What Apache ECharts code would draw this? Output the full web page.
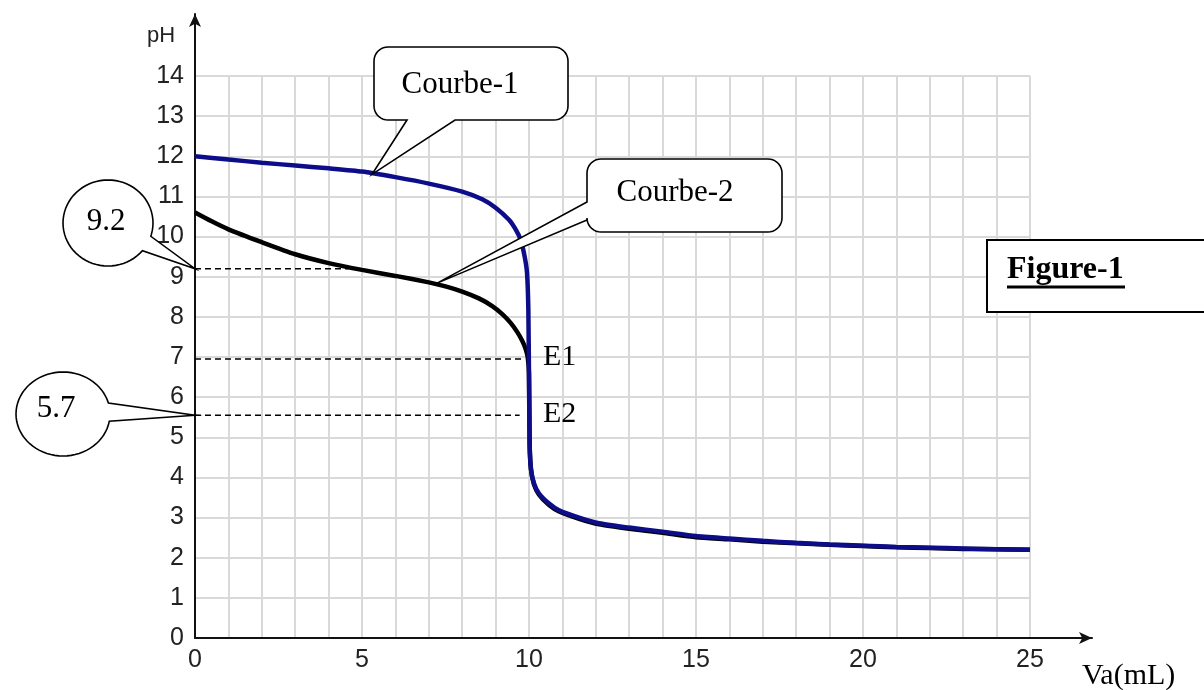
<!DOCTYPE html>
<html><head><meta charset="utf-8">
<script src="https://cdn.jsdelivr.net/npm/echarts@6.0.0/dist/echarts.min.js"></script>
<style>html,body{margin:0;padding:0;background:#fff}#c{width:1204px;height:690px}</style>
</head><body><div id="c"></div>
<script>
// ---- data ----
const vol1 = [0, 1, 2, 3, 4, 5, 6, 7, 8, 8.6, 9, 9.4, 9.6, 9.75, 9.87, 9.94, 9.98, 10.0, 10.02, 10.06, 10.15, 10.3, 10.6, 10.9, 11.5, 12.1, 13, 14, 15, 16, 17, 18, 19, 20, 21, 22, 23, 24, 25];
const pH1  = [12.0, 11.92, 11.84, 11.77, 11.7, 11.62, 11.48, 11.32, 11.12, 10.93, 10.72, 10.42, 10.18, 9.92, 9.5, 9.1, 8.2, 6.5, 4.8, 4.2, 3.85, 3.6, 3.35, 3.18, 3.0, 2.86, 2.75, 2.65, 2.54, 2.48, 2.42, 2.37, 2.33, 2.3, 2.27, 2.25, 2.23, 2.21, 2.2];
const vol2 = [0, 0.5, 1, 2, 3, 4, 5, 6, 7, 7.5, 8, 8.5, 8.9, 9.2, 9.45, 9.65, 9.8, 9.9, 9.96, 10.0, 10.02, 10.06, 10.15, 10.3, 10.6, 10.9, 11.5, 12.1, 13, 14, 15, 16, 17, 18, 19, 20, 21, 22, 23, 24, 25];
const pH2  = [10.6, 10.38, 10.18, 9.86, 9.56, 9.34, 9.17, 9.02, 8.86, 8.76, 8.63, 8.46, 8.27, 8.07, 7.85, 7.62, 7.4, 7.2, 7.0, 6.6, 4.8, 4.2, 3.82, 3.57, 3.31, 3.15, 2.97, 2.83, 2.72, 2.62, 2.51, 2.46, 2.4, 2.36, 2.32, 2.29, 2.26, 2.24, 2.22, 2.21, 2.2];
const refLevels = [9.2, 6.95, 5.55];
const refEnds   = [4.6, 9.82, 9.72];
const xTickLabels = [0, 5, 10, 15, 20, 25];
const yTickLabels = [0,1,2,3,4,5,6,7,8,9,10,11,12,13,14];
const calloutTexts = ['Courbe-1', 'Courbe-2', '9.2', '5.7'];
const calloutTips = [[5.3, 11.55], [7.25, 8.84], [0, 9.2], [0, 5.55]];
const pointLabels = ['E1', 'E2'];

const zip = (xs, ys) => xs.map((x, i) => [x, ys[i]]);
const serif = '"Liberation Serif", "Times New Roman", serif';
const sans = '"Liberation Sans", Arial, sans-serif';

const refSeries = refLevels.map((lv, i) => ({
  type: 'line', xAxisIndex: 0, yAxisIndex: 0, symbol: 'none', silent: true, z: 3,
  data: [[0, lv], [refEnds[i], lv]],
  lineStyle: { color: '#000', width: 1.5, type: [6, 4] }
}));

const option = {
  animation: false,
  backgroundColor: '#fff',
  grid: [
    { left: 195, right: 174, top: 76, bottom: 52 },
    { left: 195, right: 112, top: 14, bottom: 52 }
  ],
  xAxis: [
    { type: 'value', gridIndex: 0, min: 0, max: 25, interval: 1,
      axisLine: { show: false }, axisTick: { show: false },
      axisLabel: { margin: 10, fontFamily: sans, fontSize: 25, color: '#222',
        formatter: v => xTickLabels.includes(v) ? String(v) : '' },
      splitLine: { show: true, lineStyle: { color: '#d9d9d9', width: 2 } } },
    { type: 'value', gridIndex: 1, min: 0, max: 1,
      axisLine: { show: true, onZero: false, symbol: ['none', 'arrow'], symbolSize: [9, 13], lineStyle: { color: '#111', width: 2 } },
      axisTick: { show: false }, axisLabel: { show: false }, splitLine: { show: false } }
  ],
  yAxis: [
    { type: 'value', gridIndex: 0, min: 0, max: 14, interval: 1,
      axisLine: { show: false }, axisTick: { show: false },
      axisLabel: { margin: 11, fontFamily: sans, fontSize: 25, color: '#222',
        formatter: v => yTickLabels.includes(v) ? String(v) : '' },
      splitLine: { show: true, lineStyle: { color: '#d9d9d9', width: 2 } } },
    { type: 'value', gridIndex: 1, min: 0, max: 1,
      axisLine: { show: true, onZero: false, symbol: ['none', 'arrow'], symbolSize: [9, 13], lineStyle: { color: '#111', width: 2 } },
      axisTick: { show: false }, axisLabel: { show: false }, splitLine: { show: false } }
  ],
  series: [
    ...refSeries,
    { name: 'Courbe-2', type: 'line', xAxisIndex: 0, yAxisIndex: 0, symbol: 'none', z: 4, smooth: 0.2,
      data: zip(vol2, pH2), lineStyle: { color: '#000', width: 4.5 } },
    { name: 'Courbe-1', type: 'line', xAxisIndex: 0, yAxisIndex: 0, symbol: 'none', z: 5, smooth: 0.2,
      data: zip(vol1, pH1), lineStyle: { color: '#0d0d8a', width: 4.5 } }
  ]
};

const chart = echarts.init(document.getElementById('c'));
chart.setOption(option);

const px = d => chart.convertToPixel({ gridIndex: 0 }, d);

function arc(cx, cy, r, a0, a1) {
  const pts = [];
  for (let a = a0; a <= a1 + 0.01; a += 10) {
    const t = a * Math.PI / 180;
    pts.push([cx + r * Math.cos(t), cy + r * Math.sin(t)]);
  }
  return pts;
}
// rounded box with a pointer; side = 'bottom' or 'left'
function boxCallout(x0, y0, x1, y1, r, side, na, nb, tip) {
  let pts = [];
  pts = pts.concat(arc(x1 - r, y0 + r, r, -90, 0));
  pts = pts.concat(arc(x1 - r, y1 - r, r, 0, 90));
  if (side === 'bottom') pts.push([na, y1], tip, [nb, y1]);
  pts = pts.concat(arc(x0 + r, y1 - r, r, 90, 180));
  if (side === 'left') pts.push([x0, na], tip, [x0, nb]);
  pts = pts.concat(arc(x0 + r, y0 + r, r, 180, 270));
  return pts;
}
function ellipseCallout(cx, cy, rx, ry, a1, a2, tip) {
  const pts = [];
  for (let a = a2; a <= a1 + 360; a += 5) {
    const t = a * Math.PI / 180;
    pts.push([cx + rx * Math.cos(t), cy + ry * Math.sin(t)]);
  }
  const t1 = a1 * Math.PI / 180;
  pts.push([cx + rx * Math.cos(t1), cy + ry * Math.sin(t1)]);
  pts.push(tip);
  return pts;
}

const t1 = px(calloutTips[0]), t2 = px(calloutTips[1]), t3 = px(calloutTips[2]), t4 = px(calloutTips[3]);
const stroke = { fill: '#fff', stroke: '#000', lineWidth: 1.6 };
const txt = (text, x, y, size, extra) => ({ type: 'text', x, y, z: 20, style: Object.assign({ text, font: `${size}px ${serif}`, fill: '#000', align: 'center', verticalAlign: 'middle' }, extra || {}) });

chart.setOption({
  graphic: [
    { type: 'polygon', z: 15, shape: { points: boxCallout(374, 47, 568, 120, 14, 'bottom', 455, 407, t1) }, style: stroke },
    txt(calloutTexts[0], 460, 85, 31),
    { type: 'polygon', z: 15, shape: { points: boxCallout(587, 159, 782, 232, 14, 'left', 220, 202, t2) }, style: stroke },
    txt(calloutTexts[1], 675, 193, 31),
    { type: 'polygon', z: 15, shape: { points: ellipseCallout(108, 223, 45, 43, 18, 40, t3) }, style: stroke },
    txt(calloutTexts[2], 106, 222, 31),
    { type: 'polygon', z: 15, shape: { points: ellipseCallout(63, 414, 47, 42, -15, 10, t4) }, style: stroke },
    txt(calloutTexts[3], 56, 409, 31),
    txt(pointLabels[0], 543, 357, 30, { align: 'left' }),
    txt(pointLabels[1], 543, 414, 30, { align: 'left' }),
    { type: 'rect', z: 15, shape: { x: 987, y: 240, width: 240, height: 72 }, style: { fill: '#fff', stroke: '#000', lineWidth: 2 } },
    txt('Figure-1', 1007, 270, 32, { align: 'left', font: `bold 32px ${serif}` }),
    { type: 'line', z: 20, shape: { x1: 1007, y1: 287, x2: 1125, y2: 287 }, style: { stroke: '#000', lineWidth: 3 } },
    { type: 'text', x: 161, y: 36, z: 20, style: { text: 'pH', font: `22px ${sans}`, fill: '#222', align: 'center', verticalAlign: 'middle' } },
    txt('Va(mL)', 1082, 676, 30, { align: 'left' })
  ]
});
</script></body></html>
